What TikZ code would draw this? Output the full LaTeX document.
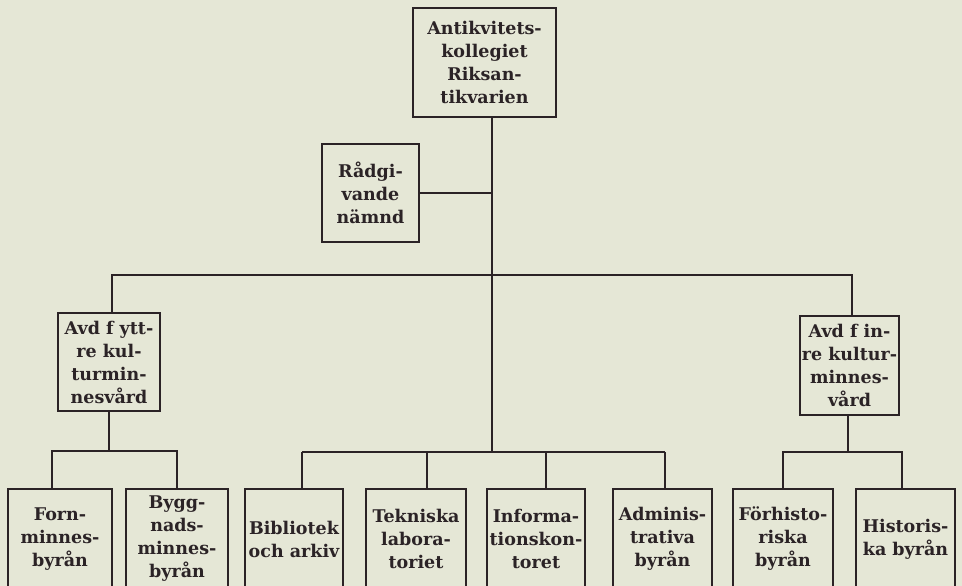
\documentclass[tikz,border=0pt]{standalone}
\usepackage{fontspec}
\setmainfont{DejaVu Serif}
\usepackage{tikz}
\usetikzlibrary{calc,positioning}
\definecolor{paper}{RGB}{229,231,214}
\definecolor{ink}{RGB}{43,35,38}
\tikzset{%
	orgbox/.style  = {draw=ink, line width=1.8pt, text=ink, align=center, inner sep=0pt, font=\orgtext},
	orgline/.style = {draw=ink, line width=1.8pt},
}
\newcommand{\orgtext}{\fontsize{17.5}{23}\selectfont\bfseries}

\begin{document}
\begin{tikzpicture}[x=1pt,y=-1pt]
		\fill[paper] (0,0) rectangle (962,586);
		\useasboundingbox (0,0) rectangle (962,586);
		\clip (0,0) rectangle (962,586);
		
		% top and advisory board
		\node[orgbox,minimum width=143pt,minimum height=109pt] (riks) at (484.5,62.5) {Antikvitets-\\kollegiet\\Riksan-\\tikvarien};
		\node[orgbox,minimum width=97pt,minimum height=98pt] (radg) at (370.5,193) {Rådgi-\\vande\\nämnd};
		
		% the two departments
		\node[orgbox,minimum width=102pt,minimum height=98pt] (ytter) at (109,362) {Avd f ytt-\\re kul-\\turmin-\\nesvård};
		\node[orgbox,minimum width=99pt,minimum height=99pt] (inre) at (849.5,365.5) {Avd f in-\\re kultur-\\minnes-\\vård};
		
		% bottom row
		\node[orgbox,minimum width=104pt,minimum height=100pt] (forn) at (60,539) {Forn-\\minnes-\\byrån};
		\node[orgbox,minimum width=102pt,minimum height=100pt] (bygg) at (177,539) {Bygg-\\nads-\\minnes-\\byrån};
		\node[orgbox,minimum width=98pt,minimum height=100pt] (bibl) at (294,539) {Bibliotek\\och arkiv};
		\node[orgbox,minimum width=100pt,minimum height=100pt] (tekn) at (416,539) {Tekniska\\labora-\\toriet};
		\node[orgbox,minimum width=98pt,minimum height=100pt] (info) at (536,539) {Informa-\\tionskon-\\toret};
		\node[orgbox,minimum width=99pt,minimum height=100pt] (adm) at (662.5,539) {Adminis-\\trativa\\byrån};
		\node[orgbox,minimum width=100pt,minimum height=100pt] (forh) at (783,539) {Förhisto-\\riska\\byrån};
		\node[orgbox,minimum width=99pt,minimum height=100pt] (hist) at (905.5,539) {Historis-\\ka byrån};
		
		% bus lines
		\coordinate (trunk) at ([xshift=7.5pt]riks.south);
		\coordinate (u1) at (112,275);
		\coordinate (u2) at (852,275);
		\coordinate (l1) at (52,451);
		\coordinate (l2) at (177,451);
		\coordinate (r0) at (848,452);
		\coordinate (r1) at (783,452);
		\coordinate (r2) at (902,452);
		
		\draw[orgline] (trunk) -- (trunk |- 0,452);
		\draw[orgline] (radg.east) -- (radg.east -| trunk);
		\draw[orgline] (ytter.north -| u1) -- (u1) -- (u2) -- (inre.north -| u2);
		
		\draw[orgline] (ytter.south) -- (ytter.south |- l1);
		\draw[orgline] (forn.north -| l1) -- (l1) -- (l2) -- (bygg.north -| l2);
		
		\draw[orgline] (inre.south -| r0) -- (r0);
		\draw[orgline] (forh.north -| r1) -- (r1) -- (r2) -- (hist.north -| r2);
		
		\foreach \n/\x in {bibl/302,tekn/427,info/546,adm/665} \draw[orgline] (\x,452) coordinate (m\n) -- (\n.north -| m\n);
		\draw[orgline] (mbibl) -- (madm);
	\end{tikzpicture}
\end{document}
